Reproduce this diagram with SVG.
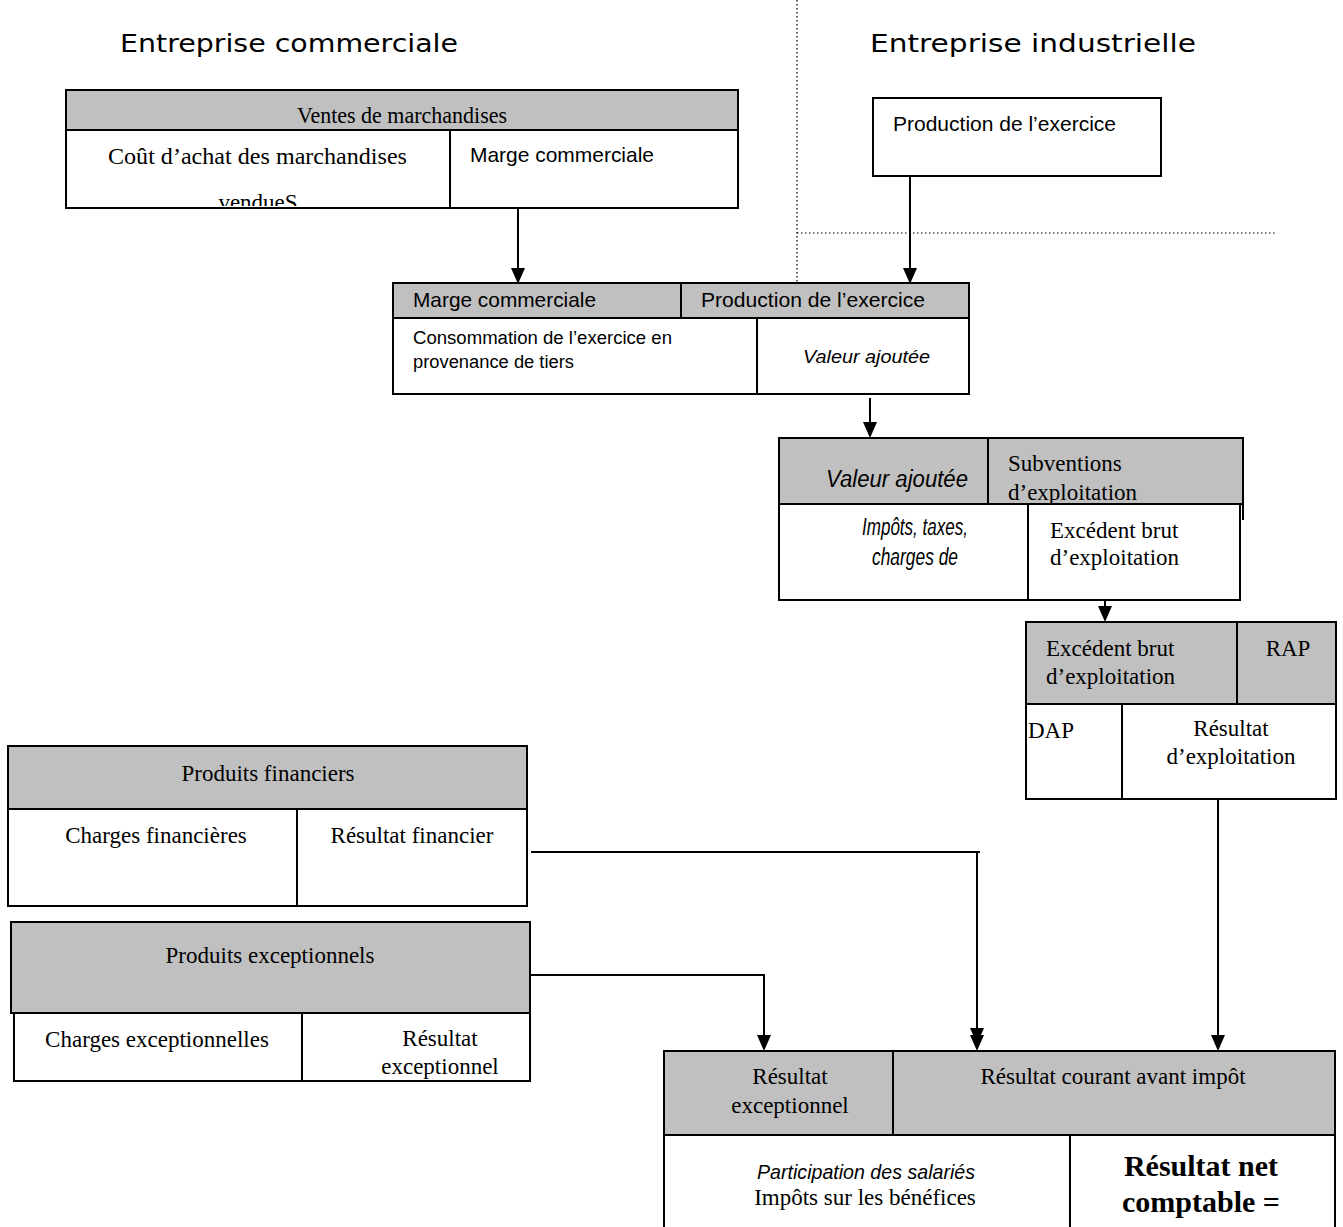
<svg xmlns="http://www.w3.org/2000/svg" width="1343" height="1227" viewBox="0 0 1343 1227">
  <style>
    .hd { fill: #c0c0c0; stroke: #000; stroke-width: 2; }
    .bx { fill: #fff; stroke: #000; stroke-width: 2; }
    .ln { fill: none; stroke: #000; stroke-width: 2; }
    .dot { fill: none; stroke: #000; stroke-width: 1.2; stroke-dasharray: 1.5 2.5; }
    .ser { font-family: "Liberation Serif", "Times New Roman", serif; font-size: 23px; fill: #000; }
    .nar { font-family: "Liberation Sans Narrow", "Liberation Sans", Arial, sans-serif; font-size: 21px; fill: #000; }
    .it { font-style: italic; }
    .ttl { font-family: "DejaVu Sans", "Open Sans", sans-serif; font-size: 25px; fill: #000; }
    .mid { text-anchor: middle; }
  </style>
  <defs>
    <clipPath id="clip1"><rect x="66" y="130" width="384" height="76"/></clipPath>
  </defs>

  <!-- column titles and separators -->
  <g id="titles">
    <text class="ttl" x="120" y="52" textLength="338" lengthAdjust="spacingAndGlyphs">Entreprise commerciale</text>
    <text class="ttl" x="870" y="52" textLength="326" lengthAdjust="spacingAndGlyphs">Entreprise industrielle</text>
    <line class="dot" x1="797" y1="0" x2="797" y2="292"/>
    <line class="dot" x1="797" y1="233" x2="1275" y2="233"/>
  </g>

  <!-- connectors -->
  <g id="connectors">
    <path class="ln" d="M518,208 V268"/>
    <path d="M511,268 L525,268 L518,284 Z"/>
    <path class="ln" d="M910,176 V268"/>
    <path d="M903,268 L917,268 L910,284 Z"/>
    <path class="ln" d="M870,398 V423"/>
    <path d="M863,422 L877,422 L870,438 Z"/>
    <path class="ln" d="M1105,600 V607"/>
    <path d="M1098,606 L1112,606 L1105,622 Z"/>
    <path class="ln" d="M1218,799 V1036"/>
    <path d="M1211,1035 L1225,1035 L1218,1051 Z"/>
    <!-- financial result -->
    <path class="ln" d="M519,856 L526,851"/>
    <path class="ln" d="M531,852 H980"/>
    <path class="ln" d="M977,852 V1030"/>
    <path d="M970,1028 L984,1028 L977,1044 Z"/>
    <path d="M970,1035 L984,1035 L977,1051 Z"/>
    <!-- exceptional result -->
    <path class="ln" d="M527,975 H764 V1036"/>
    <path d="M757,1035 L771,1035 L764,1051 Z"/>
  </g>

  <!-- Ventes de marchandises -->
  <g id="ventes">
    <rect class="hd" x="66" y="90" width="672" height="40"/>
    <rect class="bx" x="66" y="130" width="384" height="78"/>
    <rect class="bx" x="450" y="130" width="288" height="78"/>
    <text class="ser mid" x="402" y="123" textLength="210" lengthAdjust="spacingAndGlyphs">Ventes de marchandises</text>
    <text class="ser" x="108" y="164" textLength="299" lengthAdjust="spacingAndGlyphs">Coût d’achat des marchandises</text>
    <text class="ser mid" x="258" y="210" clip-path="url(#clip1)">vendueS</text>
    <text class="nar" x="470" y="162" textLength="184" lengthAdjust="spacingAndGlyphs">Marge commerciale</text>
  </g>

  <!-- Production de l'exercice (industrielle) -->
  <g id="production">
    <rect class="bx" x="873" y="98" width="288" height="78"/>
    <text class="nar" x="893" y="131" textLength="223" lengthAdjust="spacingAndGlyphs">Production de l’exercice</text>
  </g>

  <!-- Valeur ajoutée -->
  <g id="valeur-ajoutee">
    <rect class="hd" x="393" y="283" width="288" height="35"/>
    <rect class="hd" x="681" y="283" width="288" height="35"/>
    <rect class="bx" x="393" y="318" width="364" height="76"/>
    <rect class="bx" x="757" y="318" width="212" height="76"/>
    <text class="nar" x="413" y="307" textLength="183" lengthAdjust="spacingAndGlyphs">Marge commerciale</text>
    <text class="nar" x="701" y="307" textLength="224" lengthAdjust="spacingAndGlyphs">Production de l’exercice</text>
    <text class="nar" x="413" y="344" style="font-size:18px" textLength="259" lengthAdjust="spacingAndGlyphs">Consommation de l’exercice en</text>
    <text class="nar" x="413" y="368" style="font-size:18px" textLength="161" lengthAdjust="spacingAndGlyphs">provenance de tiers</text>
    <text class="nar it" x="803" y="363" style="font-size:18px" textLength="127" lengthAdjust="spacingAndGlyphs">Valeur ajoutée</text>
  </g>

  <!-- Excédent brut d'exploitation -->
  <g id="ebe">
    <rect class="hd" x="779" y="438" width="209" height="66"/>
    <rect class="hd" x="988" y="438" width="255" height="66"/>
    <path class="ln" d="M1243,504 V520"/>
    <rect class="bx" x="779" y="504" width="249" height="96"/>
    <rect class="bx" x="1028" y="504" width="212" height="96"/>
    <text class="nar it" x="826" y="487" style="font-size:23px" textLength="142" lengthAdjust="spacingAndGlyphs">Valeur ajoutée</text>
    <text class="ser" x="1008" y="471">Subventions</text>
    <text class="ser" x="1008" y="500">d’exploitation</text>
    <text class="nar it" x="862" y="535" style="font-size:23px" textLength="106" lengthAdjust="spacingAndGlyphs">Impôts, taxes,</text>
    <text class="nar it" x="872" y="565" style="font-size:23px" textLength="86" lengthAdjust="spacingAndGlyphs">charges de</text>
    <text class="ser" x="1050" y="538">Excédent brut</text>
    <text class="ser" x="1050" y="565">d’exploitation</text>
  </g>

  <!-- Résultat d'exploitation -->
  <g id="resultat-exploitation">
    <rect class="hd" x="1026" y="622" width="211" height="82"/>
    <rect class="hd" x="1237" y="622" width="99" height="82"/>
    <rect class="bx" x="1026" y="704" width="96" height="95"/>
    <rect class="bx" x="1122" y="704" width="214" height="95"/>
    <text class="ser" x="1046" y="656">Excédent brut</text>
    <text class="ser" x="1046" y="684">d’exploitation</text>
    <text class="ser mid" x="1288" y="656">RAP</text>
    <text class="ser mid" x="1051" y="738">DAP</text>
    <text class="ser mid" x="1231" y="736">Résultat</text>
    <text class="ser mid" x="1231" y="764">d’exploitation</text>
  </g>

  <!-- Résultat financier -->
  <g id="resultat-financier">
    <rect class="hd" x="8" y="746" width="519" height="63"/>
    <rect class="bx" x="8" y="809" width="289" height="97"/>
    <rect class="bx" x="297" y="809" width="230" height="97"/>
    <text class="ser mid" x="268" y="781">Produits financiers</text>
    <text class="ser mid" x="156" y="843">Charges financières</text>
    <text class="ser mid" x="412" y="843">Résultat financier</text>
  </g>

  <!-- Résultat exceptionnel -->
  <g id="resultat-exceptionnel">
    <rect class="hd" x="11" y="922" width="519" height="91"/>
    <rect class="bx" x="14" y="1013" width="288" height="68"/>
    <rect class="bx" x="302" y="1013" width="228" height="68"/>
    <text class="ser mid" x="270" y="963">Produits exceptionnels</text>
    <text class="ser mid" x="157" y="1047">Charges exceptionnelles</text>
    <text class="ser mid" x="440" y="1046">Résultat</text>
    <text class="ser mid" x="440" y="1074">exceptionnel</text>
  </g>

  <!-- Résultat net comptable -->
  <g id="resultat-net">
    <rect class="hd" x="664" y="1051" width="229" height="84"/>
    <rect class="hd" x="893" y="1051" width="442" height="84"/>
    <rect class="bx" x="664" y="1135" width="406" height="100"/>
    <rect class="bx" x="1070" y="1135" width="265" height="100"/>
    <text class="ser mid" x="790" y="1084">Résultat</text>
    <text class="ser mid" x="790" y="1113">exceptionnel</text>
    <text class="ser mid" x="1113" y="1084">Résultat courant avant impôt</text>
    <text class="nar it mid" x="866" y="1179" style="font-size:21px" textLength="218" lengthAdjust="spacingAndGlyphs">Participation des salariés</text>
    <text class="ser mid" x="865" y="1205">Impôts sur les bénéfices</text>
    <text class="ser mid" x="1201" y="1176" style="font-size:30px;font-weight:bold">Résultat net</text>
    <text class="ser mid" x="1201" y="1212" style="font-size:30px;font-weight:bold">comptable =</text>
  </g>
</svg>
